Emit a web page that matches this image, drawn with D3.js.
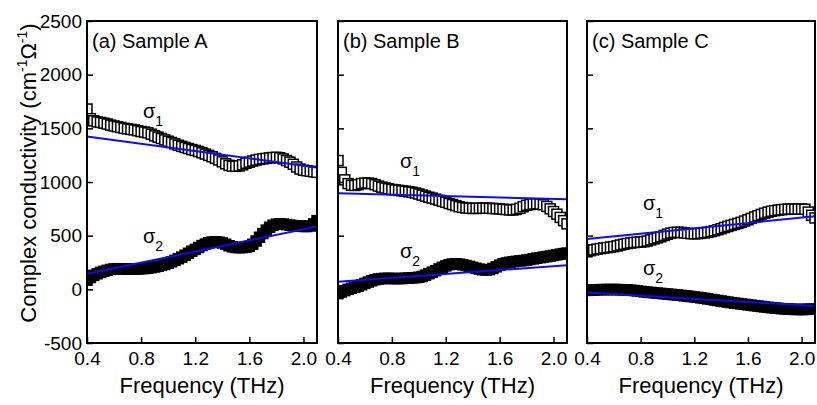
<!DOCTYPE html>
<html>
<head>
<meta charset="utf-8">
<script src="https://cdn.jsdelivr.net/npm/d3@7"></script>
<style>
  body { margin: 0; background: #fff; }
  text { font-family: Arial, "Liberation Sans", sans-serif; fill: #000; }
</style>
</head>
<body>
<div id="chart"></div>
<script>
// frequency grid (THz)
const freq = [0.400, 0.425, 0.450, 0.475, 0.500, 0.525, 0.550, 0.575, 0.600, 0.625,
  0.650, 0.675, 0.700, 0.725, 0.750, 0.775, 0.800, 0.825, 0.850, 0.875,
  0.900, 0.925, 0.950, 0.975, 1.000, 1.025, 1.050, 1.075, 1.100, 1.125,
  1.150, 1.175, 1.200, 1.225, 1.250, 1.275, 1.300, 1.325, 1.350, 1.375,
  1.400, 1.425, 1.450, 1.475, 1.500, 1.525, 1.550, 1.575, 1.600, 1.625,
  1.650, 1.675, 1.700, 1.725, 1.750, 1.775, 1.800, 1.825, 1.850, 1.875,
  1.900, 1.925, 1.950, 1.975, 2.000, 2.025, 2.050, 2.075, 2.100];

// sample A
const sigma1A = [1680, 1590, 1570, 1560, 1555, 1548, 1540, 1530, 1522, 1515,
  1508, 1500, 1495, 1490, 1485, 1478, 1470, 1465, 1458, 1445,
  1430, 1418, 1405, 1392, 1380, 1368, 1355, 1342, 1332, 1322,
  1312, 1302, 1294, 1284, 1272, 1260, 1248, 1235, 1220, 1205,
  1188, 1170, 1155, 1148, 1146, 1150, 1160, 1174, 1185, 1195,
  1204, 1211, 1216, 1220, 1224, 1228, 1230, 1226, 1215, 1200,
  1185, 1165, 1140, 1120, 1110, 1105, 1100, 1095, 1090];
const sigma2A = [85, 110, 130, 145, 158, 168, 177, 185, 190, 192,
  192, 190, 188, 188, 189, 190, 192, 194, 197, 202,
  208, 215, 223, 232, 243, 256, 270, 285, 300, 318,
  336, 355, 372, 390, 408, 422, 434, 441, 443, 440,
  432, 420, 406, 396, 390, 388, 389, 393, 400, 420,
  450, 485, 520, 552, 578, 596, 607, 610, 608, 603,
  598, 594, 592, 590, 586, 585, 590, 610, 640];

// sample B
const sigma1B = [1200, 1090, 1020, 985, 970, 968, 975, 985, 990, 990,
  985, 975, 962, 952, 944, 937, 930, 926, 922, 918,
  914, 909, 904, 897, 888, 878, 868, 858, 850, 840,
  830, 820, 811, 800, 790, 780, 770, 763, 758, 755,
  754, 754, 755, 756, 756, 755, 753, 752, 750, 747,
  743, 740, 740, 745, 755, 770, 783, 790, 795, 797,
  795, 788, 772, 750, 725, 700, 670, 640, 610];
const sigma2B = [-40, -25, -12, 0, 10, 20, 30, 42, 55, 68,
  80, 90, 96, 100, 102, 102, 101, 100, 100, 101,
  103, 105, 107, 109, 112, 120, 132, 146, 160, 174,
  190, 205, 218, 230, 236, 238, 235, 229, 222, 214,
  205, 196, 188, 182, 180, 184, 195, 210, 225, 238,
  246, 252, 257, 261, 265, 268, 272, 278, 284, 290,
  295, 300, 305, 310, 316, 322, 328, 333, 338];

// sample C
const sigma1C = [350, 360, 368, 375, 380, 385, 389, 393, 398, 405,
  413, 420, 427, 432, 436, 439, 441, 444, 450, 460,
  470, 480, 490, 502, 514, 524, 530, 532, 530, 526,
  522, 519, 518, 519, 522, 526, 531, 538, 546, 555,
  565, 576, 586, 596, 605, 614, 624, 636, 648, 661,
  674, 686, 698, 709, 719, 727, 733, 738, 742, 745,
  747, 748, 748, 748, 748, 746, 720, 690, 665];
const sigma2C = [-10, -8, -6, -4, -3, -2, -2, -2, -2, -2,
  -3, -4, -5, -8, -11, -15, -19, -23, -26, -29,
  -32, -35, -38, -41, -44, -47, -50, -53, -56, -60,
  -63, -67, -71, -75, -79, -84, -89, -94, -99, -104,
  -109, -114, -119, -124, -128, -132, -136, -140, -144, -148,
  -152, -156, -160, -164, -168, -171, -174, -177, -180, -182,
  -184, -186, -187, -188, -188, -187, -186, -185, -184];

// linear fits (end points)
const fitFreq = [0.4, 2.1];
const fit1A = [1425, 1135];
const fit2A = [145, 585];
const fit1B = [895, 840];
const fit2B = [70, 225];
const fit1C = [470, 680];
const fit2C = [-30, -155];

const panelLabels = ["(a) Sample A", "(b) Sample B", "(c) Sample C"];
const xTicks = [0.4, 0.8, 1.2, 1.6, 2.0];
const yTicks = [-500, 0, 500, 1000, 1500, 2000, 2500];

const panels = [
  { label: panelLabels[0], s1: sigma1A, s2: sigma2A, f1: fit1A, f2: fit2A, left: 87, width: 230, lab1: [143, 118], lab2: [143, 243] },
  { label: panelLabels[1], s1: sigma1B, s2: sigma2B, f1: fit1B, f2: fit2B, left: 338, width: 229, lab1: [400, 168], lab2: [400, 258] },
  { label: panelLabels[2], s1: sigma1C, s2: sigma2C, f1: fit1C, f2: fit2C, left: 587, width: 228, lab1: [643, 210], lab2: [643, 275] }
];

const plotTop = 21, plotBottom = 343;
const markerSize = 10;

const svg = d3.select("#chart").append("svg")
    .attr("width", 817)
    .attr("height", 405);

const y = d3.scaleLinear().domain([-500, 2500]).range([plotBottom, plotTop]);

panels.forEach((p, i) => {
    const x = d3.scaleLinear().domain([0.4, 2.1]).range([p.left, p.left + p.width]);

    svg.append("clipPath")
        .attr("id", "clip" + i)
        .append("rect")
        .attr("x", p.left)
        .attr("y", plotTop)
        .attr("width", p.width)
        .attr("height", plotBottom - plotTop);

    const plot = svg.append("g").attr("clip-path", `url(#clip${i})`);

    // sigma 2: filled squares
    plot.append("g").selectAll("rect")
        .data(freq.map((f, j) => [f, p.s2[j]]))
        .enter()
        .append("rect")
        .attr("x", d => x(d[0]) - markerSize / 2)
        .attr("y", d => y(d[1]) - markerSize / 2)
        .attr("width", markerSize)
        .attr("height", markerSize)
        .attr("fill", "#000")
        .attr("stroke", "#000")
        .attr("stroke-width", 1.5);

    // sigma 1: open squares
    plot.append("g").selectAll("rect")
        .data(freq.map((f, j) => [f, p.s1[j]]))
        .enter()
        .append("rect")
        .attr("x", d => x(d[0]) - markerSize / 2)
        .attr("y", d => y(d[1]) - markerSize / 2)
        .attr("width", markerSize)
        .attr("height", markerSize)
        .attr("fill", "#fff")
        .attr("stroke", "#000")
        .attr("stroke-width", 1.5);

    // fits
    const line = d3.line().x(d => x(d[0])).y(d => y(d[1]));
    [p.f1, p.f2].forEach(fit => {
        plot.append("path")
            .attr("d", line(fitFreq.map((f, j) => [f, fit[j]])))
            .attr("fill", "none")
            .attr("stroke", "#0a0aff")
            .attr("stroke-width", 2);
    });

    // axes (inward ticks)
    svg.append("g")
        .attr("transform", `translate(0,${plotBottom})`)
        .call(d3.axisBottom(x).tickValues(xTicks).tickSizeInner(-6).tickSizeOuter(0).tickFormat(d3.format(".1f")).tickPadding(9))
        .call(g => g.select(".domain").remove())
        .call(g => g.selectAll("line").attr("stroke-width", 1.5))
        .call(g => g.selectAll("text").style("font-size", "19px").attr("font-family", null));

    const yAxis = svg.append("g")
        .attr("transform", `translate(${p.left},0)`)
        .call(d3.axisLeft(y).tickValues(yTicks).tickFormat(d => String(d)).tickSizeInner(-6).tickSizeOuter(0).tickPadding(5))
        .call(g => g.select(".domain").remove())
        .call(g => g.selectAll("line").attr("stroke-width", 1.5))
        .call(g => g.selectAll("text").style("font-size", "19px").attr("font-family", null));
    if (i > 0) yAxis.selectAll("text").remove();

    // frame
    svg.append("rect")
        .attr("x", p.left)
        .attr("y", plotTop)
        .attr("width", p.width)
        .attr("height", plotBottom - plotTop)
        .attr("fill", "none")
        .attr("stroke", "#000")
        .attr("stroke-width", 2);

    // panel title
    svg.append("text")
        .attr("x", p.left + 5)
        .attr("y", 48)
        .style("font-size", "20px")
        .text(p.label);

    // sigma labels
    [[p.lab1, "1"], [p.lab2, "2"]].forEach(([pos, sub]) => {
        const t = svg.append("text")
            .attr("x", pos[0])
            .attr("y", pos[1])
            .style("font-size", "20px");
        t.append("tspan").text("σ");
        t.append("tspan").attr("dy", 8).style("font-size", "14px").text(sub);
    });

    // x axis title
    svg.append("text")
        .attr("x", p.left + p.width / 2)
        .attr("y", 393)
        .attr("text-anchor", "middle")
        .style("font-size", "22px")
        .text("Frequency (THz)");
});

// y axis title
const yTitle = svg.append("text")
    .attr("transform", "translate(36,173) rotate(-90)")
    .attr("text-anchor", "middle")
    .style("font-size", "22px");
yTitle.append("tspan").text("Complex conductivity (cm");
yTitle.append("tspan").attr("dy", -9).style("font-size", "14px").text("-1");
yTitle.append("tspan").attr("dy", 9).text("Ω");
yTitle.append("tspan").attr("dy", -9).style("font-size", "14px").text("-1");
yTitle.append("tspan").attr("dy", 9).text(")");
</script>
</body>
</html>
